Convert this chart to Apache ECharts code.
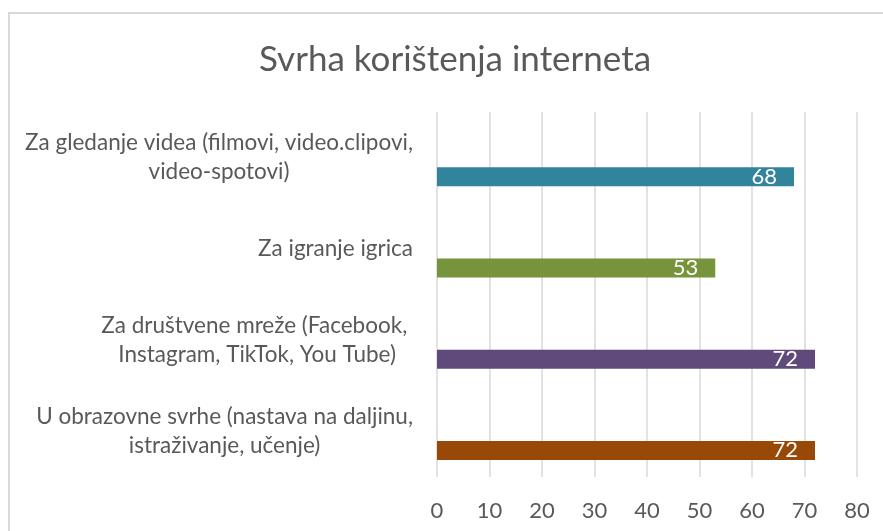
<!DOCTYPE html>
<html lang="hr">
<head>
<meta charset="UTF-8">
<title>Svrha korištenja interneta</title>
<script src="https://cdn.jsdelivr.net/npm/echarts@6/dist/echarts.min.js"></script>
<style>
  html, body { margin: 0; padding: 0; background: #fff; }
  #chart { width: 883px; height: 531px; }
</style>
</head>
<body>
<div id="chart"></div>
<script>
// podaci
var categories = [
  'Za gledanje videa (filmovi, video.clipovi,\nvideo-spotovi)',
  'Za igranje igrica',
  'Za društvene mreže (Facebook, \nInstagram, TikTok, You Tube)',
  'U obrazovne svrhe (nastava na daljinu,\nistraživanje, učenje)'
];
var values = [68, 53, 72, 72];
var barColors = ['#31849b', '#77933c', '#604a7b', '#984807'];
var xMin = 0, xMax = 80, xStep = 10;

var FONT = 'Lato';
var GREY = '#595959';

var chart = echarts.init(document.getElementById('chart'));

var option = {
  backgroundColor: '#fff',
  animation: false,
  title: {
    text: 'Svrha korištenja interneta',
    left: 254,
    top: 37,
    textStyle: { fontFamily: FONT, fontSize: 35, fontWeight: 'normal', color: GREY }
  },
  graphic: [{
    type: 'rect',
    shape: { x: 9, y: 13, width: 1000, height: 1000 },
    style: { fill: 'none', stroke: '#d9d9d9', lineWidth: 2 },
    silent: true
  }],
  grid: { left: 437, right: 26, top: 112, bottom: 54, containLabel: false },
  xAxis: {
    type: 'value',
    min: xMin, max: xMax, interval: xStep,
    axisLine: { show: false },
    axisTick: { show: false },
    axisLabel: { margin: 23, color: GREY, fontFamily: FONT, fontSize: 22 },
    splitLine: { lineStyle: { color: '#d9d9d9', width: 1.5 } }
  },
  yAxis: {
    type: 'category',
    inverse: true,
    data: categories,
    axisLine: { show: false },
    axisTick: { show: false },
    axisLabel: {
      margin: 24,
      formatter: function (v) {
        return v.split('\n').map(function (s) { return '{c|' + s + '}'; }).join('\n');
      },
      rich: {
        c: { align: 'center', fontFamily: FONT, fontSize: 22.5, lineHeight: 29, color: GREY }
      }
    }
  },
  series: [
    {
      name: 'razmak',
      type: 'bar',
      barWidth: 19,
      barGap: '100%',
      silent: true,
      data: categories.map(function () { return '-'; })
    },
    {
      name: 'Svrha',
      type: 'bar',
      barWidth: 19,
      barGap: '100%',
      data: values.map(function (v, i) {
        return { value: v, itemStyle: { color: barColors[i] } };
      }),
      label: {
        show: true,
        position: 'insideRight',
        distance: 17,
        color: '#fff',
        fontFamily: FONT,
        fontSize: 22
      }
    }
  ]
};

chart.setOption(option);
</script>
</body>
</html>
